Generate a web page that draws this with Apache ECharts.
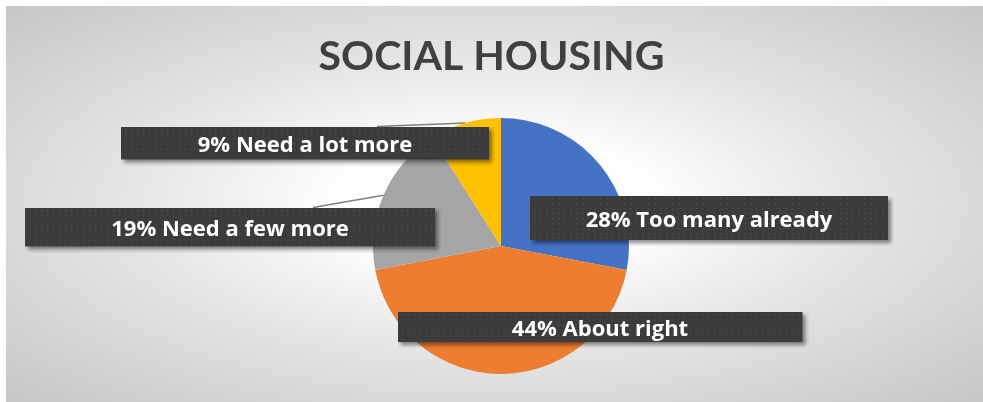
<!DOCTYPE html>
<html>
<head>
<meta charset="utf-8">
<script src="https://cdn.jsdelivr.net/npm/echarts@6/dist/echarts.min.js"></script>
<style>
	html, body { margin: 0; padding: 0; background: #fff; }
	#bg {
		position: absolute; left: 6px; top: 6px; width: 977px; height: 396px;
		background: radial-gradient(ellipse farthest-corner at 50% 50%, #ffffff 0%, #fdfdfd 24%, #e6e6e6 52%, #c6c6c6 100%);
	}
	#main { position: absolute; left: 0; top: 0; width: 983px; height: 402px; }
</style>
</head>
<body>
<div id="bg"></div>
<div id="main"></div>
<script>
	var titleText = 'SOCIAL HOUSING';
	var categories = ['Too many already', 'About right', 'Need a few more', 'Need a lot more'];
	var values = [28, 44, 19, 9];
	var colors = ['#4472C4', '#ED7D31', '#A5A5A5', '#FFC000'];

	// label boxes: centre x, centre y, width, height
	var boxes = [
		[709, 218, 358, 44],
		[600, 327, 405, 30],
		[230, 227, 410, 39],
		[305, 143, 368, 33]
	];
	// where the leader line meets the box top (x offset from box left), null = no line
	var lineEnds = [null, null, 288, 256];
	var SH = 6; // room for the drop shadow

	// dark dotted fill with a drop shadow baked in
	function dotted(w, h) {
		var c = document.createElement('canvas');
		c.width = w + SH; c.height = h + SH;
		var ctx = c.getContext('2d');
		ctx.save();
		ctx.shadowColor = 'rgba(0,0,0,0.45)';
		ctx.shadowBlur = 4;
		ctx.shadowOffsetX = 3;
		ctx.shadowOffsetY = 3;
		ctx.fillStyle = '#3b3b3b';
		ctx.fillRect(0, 0, w, h);
		ctx.restore();
		ctx.fillStyle = '#4a4a4a';
		for (var y = 2; y < h - 1; y += 5) {
			for (var x = ((y / 5) % 2 ? 4 : 1); x < w - 1; x += 6) {
				ctx.fillRect(x, y, 1.5, 1.5);
			}
		}
		return c;
	}

	var chart = echarts.init(document.getElementById('main'));

	var seriesData = categories.map(function(name, i) {
		var b = boxes[i];
		return {
			name: name,
			value: values[i],
			itemStyle: { color: colors[i] },
			label: {
				width: b[2],
				height: b[3],
				lineHeight: b[3],
				padding: [0, SH, SH, 0],
				backgroundColor: { image: dotted(b[2], b[3]) }
			},
			labelLine: { show: lineEnds[i] != null }
		};
	});

	var option = {
		backgroundColor: 'transparent',
		animation: false,
		title: {
			text: titleText,
			left: 'center',
			top: 31,
			textStyle: {
				fontFamily: 'Lato',
				fontSize: 41,
				fontWeight: 'bold',
				color: '#404040'
			}
		},
		series: [{
			type: 'pie',
			center: [501, 246],
			radius: 128,
			startAngle: 90,
			clockwise: true,
			data: seriesData,
			itemStyle: {
				borderWidth: 0
			},
			label: {
				show: true,
				position: 'outside',
				formatter: function(p) {
					return p.value + '% ' + p.name;
				},
				fontFamily: 'Open Sans',
				fontSize: 22,
				fontWeight: 'bold',
				color: '#ffffff',
				align: 'center',
				verticalAlign: 'middle'
			},
			labelLine: {
				length: 8,
				length2: 8,
				lineStyle: { color: '#7f7f7f', width: 1.5 }
			},
			labelLayout: function(params) {
				var i = params.dataIndex;
				var b = boxes[i];
				var res = { x: b[0] + SH / 2, y: b[1] + SH / 2, align: 'center', verticalAlign: 'middle' };
				if (lineEnds[i] != null && params.labelLinePoints) {
					var p0 = params.labelLinePoints[0];
					var end = [b[0] - b[2] / 2 + lineEnds[i], b[1] - b[3] / 2];
					res.labelLinePoints = [p0, p0, end];
				}
				return res;
			}
		}]
	};
	chart.setOption(option);
</script>
</body>
</html>
